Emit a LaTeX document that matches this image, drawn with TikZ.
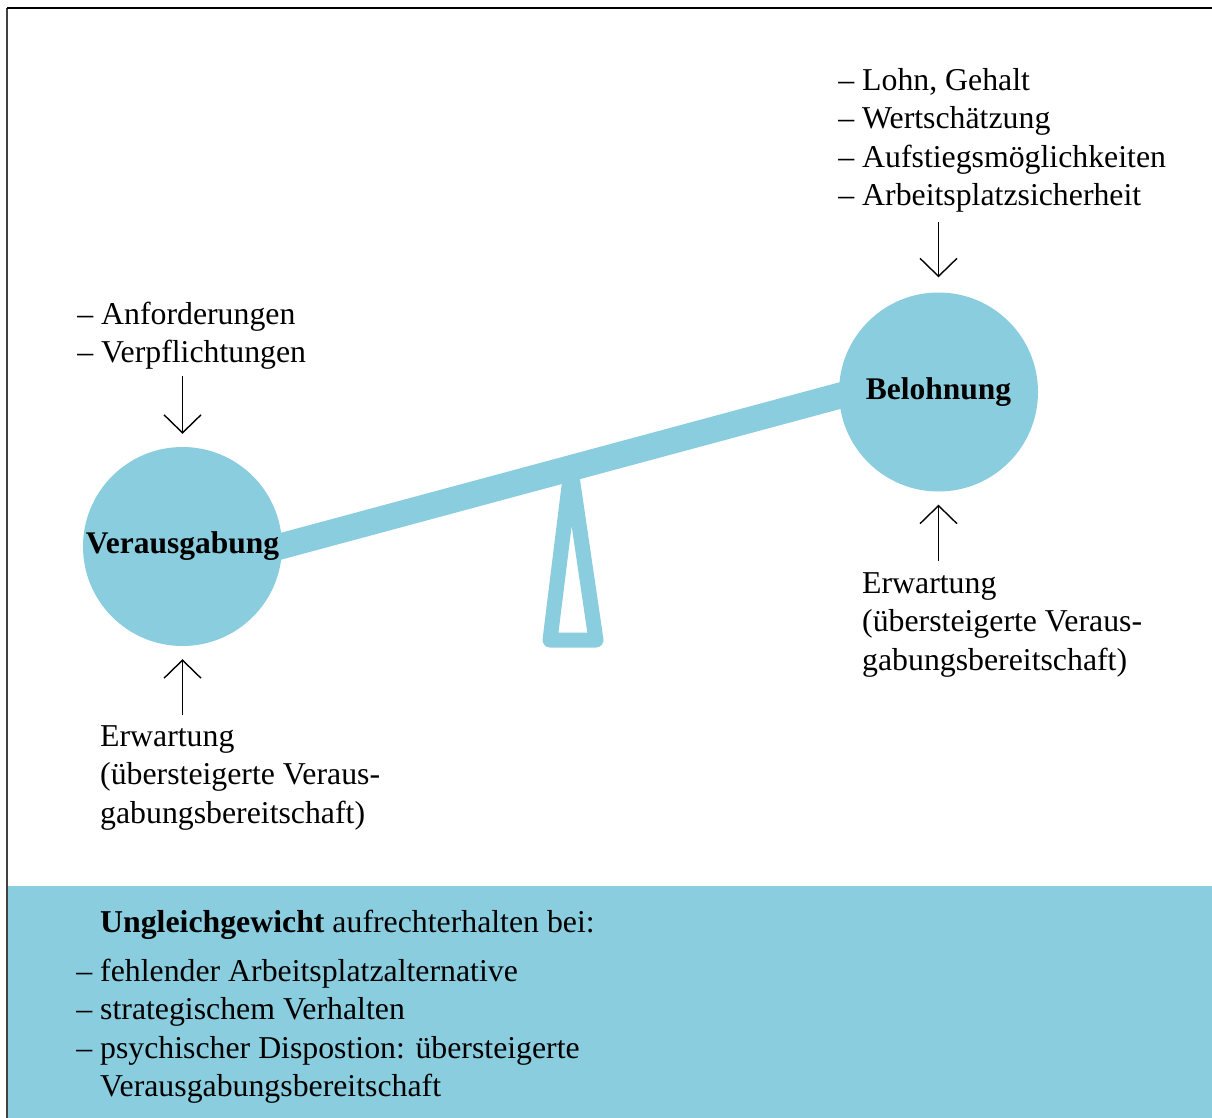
\documentclass[tikz,border=0pt]{standalone}
\usepackage{fontspec}
\setmainfont{Liberation Serif}
\usetikzlibrary{arrows.meta}
\definecolor{seesaw}{RGB}{137,205,222}
\begin{document}
\begin{tikzpicture}[x=1pt,y=-1pt,
  txt/.style={anchor=base west,inner sep=0pt,font=\fontsize{31.8}{38.5}\selectfont},
  ball/.style={circle,fill=seesaw,minimum size=199pt,inner sep=0pt,font=\fontsize{31.5}{38.5}\selectfont\bfseries},
  arr/.style={line width=1.4pt,-{Straight Barb[length=18pt,width=37pt,line width=1.4pt]}},
  frameline/.style={line width=1.4pt}
]
\useasboundingbox (0,0) rectangle (1212,1118);
% frame
\fill[seesaw] (8,886) rectangle (1212,1118);
\draw[frameline,black!75] (7,1118) -- (7,8);
\draw[frameline,black] (7,8) -- (1212,8);
% beam and fulcrum
\draw[seesaw,line width=15pt,line join=round] (550,640) -- (571,470) -- (596,640) -- cycle;
\coordinate (beamL) at (250,554.6);
\coordinate (beamR) at (870,387.5);
\draw[seesaw,line width=26pt] (beamL) -- (beamR);
% balls
\node[ball] (ver) at (182.5,546.5) {Verausgabung};
\node[ball] (bel) at (938.5,392) {Belohnung};
% top right list
\node[txt] (r1) at (862,90.5) {\llap{– }Lohn, Gehalt};
\node[txt] (r2) at (862,129) {\llap{– }Wertschätzung};
\node[txt] (r3) at (862,167.5) {\llap{– }Aufstiegsmöglichkeiten};
\node[txt] (r4) at (862,205.5) {\llap{– }Arbeitsplatzsicherheit};
% top left list
\node[txt] (l1) at (101,324) {\llap{– }Anforderungen};
\node[txt] (l2) at (101,362.5) {\llap{– }Verpflichtungen};
% Erwartung left
\node[txt] (el1) at (100,746) {Erwartung};
\node[txt] (el2) at (100,784.5) {(übersteigerte Veraus-};
\node[txt] (el3) at (100,823) {gabungsbereitschaft)};
% Erwartung right
\node[txt] (er1) at (862,593) {Erwartung};
\node[txt] (er2) at (862,631.5) {(übersteigerte Veraus-};
\node[txt] (er3) at (862,670) {gabungsbereitschaft)};
% arrows
\coordinate (a1) at (938.5,222);
\coordinate (a2) at (182.5,376);
\coordinate (a3) at (182.5,715);
\coordinate (a4) at (938.5,561);
\draw[arr,shorten >=15pt] (a1) -- (bel.north);
\draw[arr,shorten >=13pt] (a2) -- (ver.north);
\draw[arr,shorten >=13pt] (a3) -- (ver.south);
\draw[arr,shorten >=13pt] (a4) -- (bel.south);
% bottom box text
\node[txt] (b0) at (100,932.5) {\textbf{Ungleichgewicht} aufrechterhalten bei:};
\node[txt] (b1) at (100,981) {\llap{– }fehlender Arbeitsplatzalternative};
\node[txt] (b2) at (100,1019.5) {\llap{– }strategischem Verhalten};
\node[txt] (b3) at (100,1058) {\llap{– }psychischer Dispostion: übersteigerte};
\node[txt] (b4) at (100,1096.5) {Verausgabungsbereitschaft};
\end{tikzpicture}
\end{document}
